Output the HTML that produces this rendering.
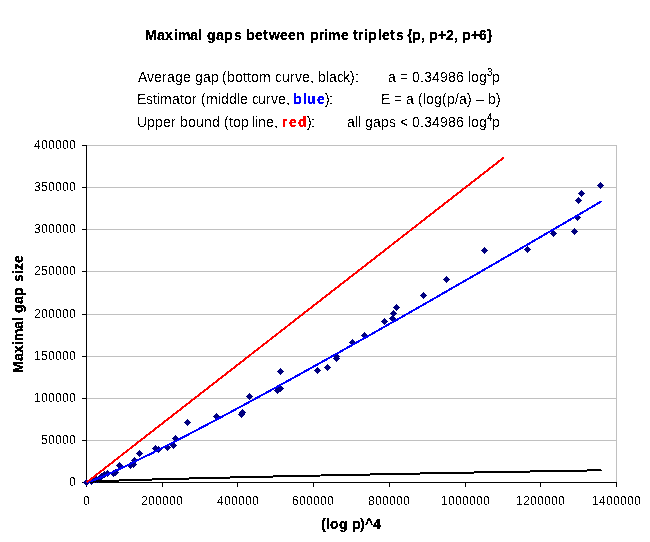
<!DOCTYPE html>
<html><head><meta charset="utf-8"><style>
html,body{margin:0;padding:0;background:#fff;width:650px;height:542px;overflow:hidden}
svg{display:block}
.t{font-family:"Liberation Sans",sans-serif;fill:#000;white-space:pre}
</style></head><body>
<svg width="650" height="542" viewBox="0 0 650 542">
<rect width="650" height="542" fill="#fff"/>
<defs><filter id="cr" x="0" y="0" width="650" height="542" filterUnits="userSpaceOnUse" color-interpolation-filters="sRGB"><feComponentTransfer><feFuncA type="discrete" tableValues="0 1"/></feComponentTransfer></filter><filter id="crb" x="0" y="0" width="650" height="542" filterUnits="userSpaceOnUse" color-interpolation-filters="sRGB"><feComponentTransfer><feFuncA type="discrete" tableValues="0 1 1"/></feComponentTransfer></filter></defs>
<g filter="url(#cr)" class="t">
<g filter="url(#crb)">
<text x="145 157 165 174 178 190 198 203 207 216 224 234 242 246 255 263 269 280 288 296 306 310 319 324 328 341" y="40" font-size="14" font-weight="bold">Maximal gaps between prime</text>
<text x="353 358 364 368 378 382 390 396" y="40" font-size="14" font-weight="bold">triplets</text>
<text x="407 412 421 425 429 438 446 454 458 462 471 479 487" y="40" font-size="14" font-weight="bold">{p, p+2, p+6}</text>
</g>
<text x="138 147 154 162 167 175 183 191 195 203 211 218 222 227 235 243 247 251 259 271 275 282 290 295 302 310 314 318 326 329 337 343 350 355" y="82" font-size="14">Average gap (bottom curve, black):</text>
<text x="137 146 153 157 160 172 180 184 192 197 201 206 218 221 229 237 240 248 252 258 266 271 278 286" y="104" font-size="14">Estimator (middle curve,</text>
<g filter="url(#crb)"><text x="293 303 307 317" y="104" font-size="14" font-weight="bold" fill="#0000ff">blue</text></g>
<text x="325 329" y="104" font-size="14">):</text>
<text x="137 147 155 163 171 176 180 188 196 204 212 220 224 229 233 241 249 252 255 258 266 274" y="127" font-size="14">Upper bound (top line,</text>
<g filter="url(#crb)"><text x="282 289 298" y="127" font-size="14" font-weight="bold" fill="#ff0000">red</text></g>
<text x="307 311" y="127" font-size="14">):</text>
<text x="388 396 400 408 412 420 424 432 440 448 456 464 468 471 479" y="82" font-size="14">a = 0.34986 log</text>
<g filter="url(#crb)"><text x="487" y="75.5" font-size="10">3</text></g>
<text x="492" y="82" font-size="14">p</text>
<text x="381 390 394 402 406 414 418 423 426 434 442 447 455 459 467 472 476 484 488 496" y="104" font-size="14">E = a (log(p/a) – b)</text>
<text x="347 355 358 361 365 373 381 389 396 400 408 412 420 424 432 440 448 456 464 468 471 479" y="127" font-size="14">all gaps &lt; 0.34986 log</text>
<g filter="url(#crb)"><text x="487" y="120.5" font-size="10">4</text></g>
<text x="492" y="127" font-size="14">p</text>
</g>
<g stroke="#c0c0c0" stroke-width="1" shape-rendering="crispEdges"><line x1="86" y1="145.5" x2="616" y2="145.5"/><line x1="86" y1="187.5" x2="616" y2="187.5"/><line x1="86" y1="229.5" x2="616" y2="229.5"/><line x1="86" y1="271.5" x2="616" y2="271.5"/><line x1="86" y1="314.5" x2="616" y2="314.5"/><line x1="86" y1="356.5" x2="616" y2="356.5"/><line x1="86" y1="398.5" x2="616" y2="398.5"/><line x1="86" y1="440.5" x2="616" y2="440.5"/><line x1="616.5" y1="145" x2="616.5" y2="482"/></g>
<g stroke="#000" stroke-width="1" shape-rendering="crispEdges"><line x1="86.5" y1="145" x2="86.5" y2="483"/><line x1="86" y1="482.5" x2="617" y2="482.5"/><line x1="82" y1="482.5" x2="86" y2="482.5"/><line x1="82" y1="440.5" x2="86" y2="440.5"/><line x1="82" y1="398.5" x2="86" y2="398.5"/><line x1="82" y1="356.5" x2="86" y2="356.5"/><line x1="82" y1="314.5" x2="86" y2="314.5"/><line x1="82" y1="271.5" x2="86" y2="271.5"/><line x1="82" y1="229.5" x2="86" y2="229.5"/><line x1="82" y1="187.5" x2="86" y2="187.5"/><line x1="82" y1="145.5" x2="86" y2="145.5"/><line x1="86.5" y1="482" x2="86.5" y2="487"/><line x1="162.5" y1="482" x2="162.5" y2="487"/><line x1="237.5" y1="482" x2="237.5" y2="487"/><line x1="313.5" y1="482" x2="313.5" y2="487"/><line x1="389.5" y1="482" x2="389.5" y2="487"/><line x1="465.5" y1="482" x2="465.5" y2="487"/><line x1="540.5" y1="482" x2="540.5" y2="487"/><line x1="616.5" y1="482" x2="616.5" y2="487"/></g>
<g filter="url(#cr)" class="t">
<text x="69" y="486" font-size="12">0</text>
<text x="41 48 55 62 69" y="444" font-size="12">50000</text>
<text x="34 41 48 55 62 69" y="402" font-size="12">100000</text>
<text x="34 41 48 55 62 69" y="360" font-size="12">150000</text>
<text x="34 41 48 55 62 69" y="318" font-size="12">200000</text>
<text x="34 41 48 55 62 69" y="275" font-size="12">250000</text>
<text x="34 41 48 55 62 69" y="233" font-size="12">300000</text>
<text x="34 41 48 55 62 69" y="191" font-size="12">350000</text>
<text x="34 41 48 55 62 69" y="149" font-size="12">400000</text>
<text x="83" y="505" font-size="12">0</text>
<text x="141 148 155 162 169 176" y="505" font-size="12">200000</text>
<text x="217 224 231 238 245 252" y="505" font-size="12">400000</text>
<text x="292 299 306 313 320 327" y="505" font-size="12">600000</text>
<text x="368 375 382 389 396 403" y="505" font-size="12">800000</text>
<text x="441 448 455 462 469 476 483" y="505" font-size="12">1000000</text>
<text x="516 523 530 537 544 551 558" y="505" font-size="12">1200000</text>
<text x="592 599 606 613 620 627 634" y="505" font-size="12">1400000</text>
<g filter="url(#crb)"><text x="321 326 330 339 348 352 360 365 373" y="529" font-size="14" font-weight="bold">(log p)^4</text></g>
<g filter="url(#crb)"><g transform="translate(23,372) rotate(-90)"><text x="-1 11 19 27 31 43 51 55 59 68 76 86 90 98 102 109" y="0" font-size="14" font-weight="bold">Maximal gap size</text></g></g>
</g>
<path fill="#000080" shape-rendering="crispEdges" d="M86,479h1v1h1v1h1v1h1v1h-1v1h-1v1h-1v1h-1v-1h-1v-1h-1v-1h-1v-1h1v-1h1v-1h1zM91,478h1v1h1v1h1v1h1v1h-1v1h-1v1h-1v1h-1v-1h-1v-1h-1v-1h-1v-1h1v-1h1v-1h1zM94,476h1v1h1v1h1v1h1v1h-1v1h-1v1h-1v1h-1v-1h-1v-1h-1v-1h-1v-1h1v-1h1v-1h1zM96,476h1v1h1v1h1v1h1v1h-1v1h-1v1h-1v1h-1v-1h-1v-1h-1v-1h-1v-1h1v-1h1v-1h1zM98,476h1v1h1v1h1v1h1v1h-1v1h-1v1h-1v1h-1v-1h-1v-1h-1v-1h-1v-1h1v-1h1v-1h1zM101,473h1v1h1v1h1v1h1v1h-1v1h-1v1h-1v1h-1v-1h-1v-1h-1v-1h-1v-1h1v-1h1v-1h1zM104,471h1v1h1v1h1v1h1v1h-1v1h-1v1h-1v1h-1v-1h-1v-1h-1v-1h-1v-1h1v-1h1v-1h1zM107,470h1v1h1v1h1v1h1v1h-1v1h-1v1h-1v1h-1v-1h-1v-1h-1v-1h-1v-1h1v-1h1v-1h1zM113,470h1v1h1v1h1v1h1v1h-1v1h-1v1h-1v1h-1v-1h-1v-1h-1v-1h-1v-1h1v-1h1v-1h1zM115,469h1v1h1v1h1v1h1v1h-1v1h-1v1h-1v1h-1v-1h-1v-1h-1v-1h-1v-1h1v-1h1v-1h1zM119,462h1v1h1v1h1v1h1v1h-1v1h-1v1h-1v1h-1v-1h-1v-1h-1v-1h-1v-1h1v-1h1v-1h1zM130,462h1v1h1v1h1v1h1v1h-1v1h-1v1h-1v1h-1v-1h-1v-1h-1v-1h-1v-1h1v-1h1v-1h1zM133,461h1v1h1v1h1v1h1v1h-1v1h-1v1h-1v1h-1v-1h-1v-1h-1v-1h-1v-1h1v-1h1v-1h1zM134,457h1v1h1v1h1v1h1v1h-1v1h-1v1h-1v1h-1v-1h-1v-1h-1v-1h-1v-1h1v-1h1v-1h1zM139,450h1v1h1v1h1v1h1v1h-1v1h-1v1h-1v1h-1v-1h-1v-1h-1v-1h-1v-1h1v-1h1v-1h1zM155,445h1v1h1v1h1v1h1v1h-1v1h-1v1h-1v1h-1v-1h-1v-1h-1v-1h-1v-1h1v-1h1v-1h1zM158,446h1v1h1v1h1v1h1v1h-1v1h-1v1h-1v1h-1v-1h-1v-1h-1v-1h-1v-1h1v-1h1v-1h1zM167,444h1v1h1v1h1v1h1v1h-1v1h-1v1h-1v1h-1v-1h-1v-1h-1v-1h-1v-1h1v-1h1v-1h1zM173,442h1v1h1v1h1v1h1v1h-1v1h-1v1h-1v1h-1v-1h-1v-1h-1v-1h-1v-1h1v-1h1v-1h1zM175,435h1v1h1v1h1v1h1v1h-1v1h-1v1h-1v1h-1v-1h-1v-1h-1v-1h-1v-1h1v-1h1v-1h1zM187,419h1v1h1v1h1v1h1v1h-1v1h-1v1h-1v1h-1v-1h-1v-1h-1v-1h-1v-1h1v-1h1v-1h1zM216,413h1v1h1v1h1v1h1v1h-1v1h-1v1h-1v1h-1v-1h-1v-1h-1v-1h-1v-1h1v-1h1v-1h1zM241,411h1v1h1v1h1v1h1v1h-1v1h-1v1h-1v1h-1v-1h-1v-1h-1v-1h-1v-1h1v-1h1v-1h1zM242,409h1v1h1v1h1v1h1v1h-1v1h-1v1h-1v1h-1v-1h-1v-1h-1v-1h-1v-1h1v-1h1v-1h1zM249,393h1v1h1v1h1v1h1v1h-1v1h-1v1h-1v1h-1v-1h-1v-1h-1v-1h-1v-1h1v-1h1v-1h1zM277,387h1v1h1v1h1v1h1v1h-1v1h-1v1h-1v1h-1v-1h-1v-1h-1v-1h-1v-1h1v-1h1v-1h1zM280,385h1v1h1v1h1v1h1v1h-1v1h-1v1h-1v1h-1v-1h-1v-1h-1v-1h-1v-1h1v-1h1v-1h1zM280,368h1v1h1v1h1v1h1v1h-1v1h-1v1h-1v1h-1v-1h-1v-1h-1v-1h-1v-1h1v-1h1v-1h1zM317,367h1v1h1v1h1v1h1v1h-1v1h-1v1h-1v1h-1v-1h-1v-1h-1v-1h-1v-1h1v-1h1v-1h1zM327,364h1v1h1v1h1v1h1v1h-1v1h-1v1h-1v1h-1v-1h-1v-1h-1v-1h-1v-1h1v-1h1v-1h1zM336,353h1v1h1v1h1v1h1v1h-1v1h-1v1h-1v1h-1v-1h-1v-1h-1v-1h-1v-1h1v-1h1v-1h1zM336,355h1v1h1v1h1v1h1v1h-1v1h-1v1h-1v1h-1v-1h-1v-1h-1v-1h-1v-1h1v-1h1v-1h1zM352,339h1v1h1v1h1v1h1v1h-1v1h-1v1h-1v1h-1v-1h-1v-1h-1v-1h-1v-1h1v-1h1v-1h1zM364,332h1v1h1v1h1v1h1v1h-1v1h-1v1h-1v1h-1v-1h-1v-1h-1v-1h-1v-1h1v-1h1v-1h1zM384,318h1v1h1v1h1v1h1v1h-1v1h-1v1h-1v1h-1v-1h-1v-1h-1v-1h-1v-1h1v-1h1v-1h1zM392,315h1v1h1v1h1v1h1v1h-1v1h-1v1h-1v1h-1v-1h-1v-1h-1v-1h-1v-1h1v-1h1v-1h1zM393,310h1v1h1v1h1v1h1v1h-1v1h-1v1h-1v1h-1v-1h-1v-1h-1v-1h-1v-1h1v-1h1v-1h1zM396,304h1v1h1v1h1v1h1v1h-1v1h-1v1h-1v1h-1v-1h-1v-1h-1v-1h-1v-1h1v-1h1v-1h1zM423,292h1v1h1v1h1v1h1v1h-1v1h-1v1h-1v1h-1v-1h-1v-1h-1v-1h-1v-1h1v-1h1v-1h1zM446,276h1v1h1v1h1v1h1v1h-1v1h-1v1h-1v1h-1v-1h-1v-1h-1v-1h-1v-1h1v-1h1v-1h1zM484,247h1v1h1v1h1v1h1v1h-1v1h-1v1h-1v1h-1v-1h-1v-1h-1v-1h-1v-1h1v-1h1v-1h1zM527,246h1v1h1v1h1v1h1v1h-1v1h-1v1h-1v1h-1v-1h-1v-1h-1v-1h-1v-1h1v-1h1v-1h1zM553,230h1v1h1v1h1v1h1v1h-1v1h-1v1h-1v1h-1v-1h-1v-1h-1v-1h-1v-1h1v-1h1v-1h1zM574,228h1v1h1v1h1v1h1v1h-1v1h-1v1h-1v1h-1v-1h-1v-1h-1v-1h-1v-1h1v-1h1v-1h1zM577,214h1v1h1v1h1v1h1v1h-1v1h-1v1h-1v1h-1v-1h-1v-1h-1v-1h-1v-1h1v-1h1v-1h1zM578,197h1v1h1v1h1v1h1v1h-1v1h-1v1h-1v1h-1v-1h-1v-1h-1v-1h-1v-1h1v-1h1v-1h1zM581,190h1v1h1v1h1v1h1v1h-1v1h-1v1h-1v1h-1v-1h-1v-1h-1v-1h-1v-1h1v-1h1v-1h1zM600,182h1v1h1v1h1v1h1v1h-1v1h-1v1h-1v1h-1v-1h-1v-1h-1v-1h-1v-1h1v-1h1v-1h1z"/>
<path d="M86.50,482.00 L86.51,482.00 L86.55,481.99 L86.62,481.98 L86.71,481.97 L86.82,481.95 L86.96,481.94 L87.13,481.92 L87.32,481.91 L87.54,481.89 L87.79,481.87 L88.06,481.85 L88.35,481.83 L88.67,481.81 L89.02,481.78 L89.39,481.76 L89.79,481.73 L90.21,481.71 L90.66,481.68 L91.14,481.66 L91.64,481.63 L92.17,481.60 L92.72,481.57 L93.30,481.54 L93.90,481.51 L94.53,481.48 L95.19,481.45 L95.87,481.42 L96.58,481.39 L97.31,481.35 L98.07,481.32 L98.85,481.28 L99.66,481.25 L100.50,481.21 L101.36,481.18 L102.24,481.14 L103.16,481.10 L104.10,481.07 L105.06,481.03 L106.05,480.99 L107.06,480.95 L108.11,480.91 L109.17,480.87 L110.26,480.83 L111.38,480.79 L112.53,480.75 L113.70,480.71 L114.89,480.66 L116.11,480.62 L117.36,480.58 L118.63,480.53 L119.93,480.49 L121.25,480.45 L122.60,480.40 L123.98,480.35 L125.38,480.31 L126.81,480.26 L128.26,480.22 L129.74,480.17 L131.24,480.12 L132.77,480.07 L134.32,480.02 L135.91,479.98 L137.51,479.93 L139.14,479.88 L140.80,479.83 L142.49,479.78 L144.19,479.73 L145.93,479.68 L147.69,479.62 L149.48,479.57 L151.29,479.52 L153.13,479.47 L154.99,479.41 L156.88,479.36 L158.80,479.31 L160.74,479.25 L162.70,479.20 L164.69,479.14 L166.71,479.09 L168.76,479.03 L170.83,478.98 L172.92,478.92 L175.04,478.87 L177.19,478.81 L179.36,478.75 L181.56,478.69 L183.78,478.64 L186.03,478.58 L188.30,478.52 L190.61,478.46 L192.93,478.40 L195.28,478.34 L197.66,478.28 L200.06,478.22 L202.49,478.16 L204.95,478.10 L207.43,478.04 L209.94,477.98 L212.47,477.92 L215.03,477.85 L217.61,477.79 L220.22,477.73 L222.85,477.67 L225.51,477.60 L228.20,477.54 L230.91,477.48 L233.65,477.41 L236.41,477.35 L239.20,477.28 L242.02,477.22 L244.86,477.15 L247.72,477.09 L250.61,477.02 L253.53,476.95 L256.47,476.89 L259.44,476.82 L262.44,476.75 L265.46,476.69 L268.50,476.62 L271.58,476.55 L274.67,476.48 L277.80,476.41 L280.95,476.34 L284.12,476.28 L287.32,476.21 L290.55,476.14 L293.80,476.07 L297.08,476.00 L300.38,475.93 L303.71,475.86 L307.06,475.78 L310.44,475.71 L313.85,475.64 L317.28,475.57 L320.74,475.50 L324.22,475.42 L327.73,475.35 L331.26,475.28 L334.82,475.21 L338.41,475.13 L342.02,475.06 L345.66,474.99 L349.32,474.91 L353.01,474.84 L356.72,474.76 L360.46,474.69 L364.23,474.61 L368.02,474.54 L371.84,474.46 L375.68,474.38 L379.55,474.31 L383.44,474.23 L387.36,474.15 L391.31,474.08 L395.28,474.00 L399.28,473.92 L403.30,473.84 L407.35,473.77 L411.42,473.69 L415.52,473.61 L419.65,473.53 L423.80,473.45 L427.98,473.37 L432.18,473.29 L436.41,473.21 L440.66,473.13 L444.94,473.05 L449.25,472.97 L453.58,472.89 L457.94,472.81 L462.32,472.73 L466.73,472.65 L471.16,472.57 L475.62,472.48 L480.11,472.40 L484.62,472.32 L489.16,472.24 L493.72,472.15 L498.31,472.07 L502.92,471.99 L507.56,471.90 L512.23,471.82 L516.92,471.74 L521.63,471.65 L526.38,471.57 L531.15,471.48 L535.94,471.40 L540.76,471.31 L545.60,471.23 L550.48,471.14 L555.37,471.06 L560.29,470.97 L565.24,470.88 L570.22,470.80 L575.22,470.71 L580.24,470.62 L585.29,470.54 L590.37,470.45 L595.47,470.36 L600.60,470.27" fill="none" stroke="#000" stroke-width="2" shape-rendering="crispEdges" stroke-linecap="round" stroke-linejoin="round"/>
<path d="M86.50,482.50 L86.51,482.50 L86.55,482.50 L86.62,482.49 L86.71,482.48 L86.82,482.47 L86.96,482.44 L87.13,482.41 L87.32,482.36 L87.54,482.31 L87.79,482.25 L88.06,482.17 L88.35,482.09 L88.67,481.99 L89.02,481.89 L89.39,481.77 L89.79,481.64 L90.21,481.50 L90.66,481.34 L91.14,481.18 L91.64,481.00 L92.17,480.81 L92.72,480.60 L93.30,480.39 L93.90,480.16 L94.53,479.92 L95.19,479.66 L95.87,479.39 L96.58,479.11 L97.31,478.81 L98.07,478.50 L98.85,478.18 L99.66,477.85 L100.50,477.50 L101.36,477.13 L102.24,476.75 L103.16,476.36 L104.10,475.96 L105.06,475.54 L106.05,475.10 L107.06,474.66 L108.11,474.19 L109.17,473.72 L110.26,473.23 L111.38,472.72 L112.53,472.20 L113.70,471.67 L114.89,471.12 L116.11,470.56 L117.36,469.98 L118.63,469.39 L119.93,468.78 L121.25,468.16 L122.60,467.52 L123.98,466.87 L125.38,466.20 L126.81,465.52 L128.26,464.83 L129.74,464.12 L131.24,463.39 L132.77,462.65 L134.32,461.89 L135.91,461.12 L137.51,460.34 L139.14,459.54 L140.80,458.72 L142.49,457.89 L144.19,457.04 L145.93,456.18 L147.69,455.30 L149.48,454.41 L151.29,453.50 L153.13,452.58 L154.99,451.64 L156.88,450.69 L158.80,449.72 L160.74,448.73 L162.70,447.73 L164.69,446.72 L166.71,445.68 L168.76,444.64 L170.83,443.58 L172.92,442.50 L175.04,441.40 L177.19,440.30 L179.36,439.17 L181.56,438.03 L183.78,436.87 L186.03,435.70 L188.30,434.51 L190.61,433.31 L192.93,432.09 L195.28,430.86 L197.66,429.61 L200.06,428.34 L202.49,427.06 L204.95,425.76 L207.43,424.45 L209.94,423.12 L212.47,421.77 L215.03,420.41 L217.61,419.03 L220.22,417.64 L222.85,416.23 L225.51,414.80 L228.20,413.36 L230.91,411.90 L233.65,410.43 L236.41,408.94 L239.20,407.44 L242.02,405.92 L244.86,404.38 L247.72,402.82 L250.61,401.25 L253.53,399.67 L256.47,398.07 L259.44,396.45 L262.44,394.81 L265.46,393.16 L268.50,391.50 L271.58,389.81 L274.67,388.12 L277.80,386.40 L280.95,384.67 L284.12,382.92 L287.32,381.16 L290.55,379.38 L293.80,377.58 L297.08,375.77 L300.38,373.94 L303.71,372.09 L307.06,370.23 L310.44,368.35 L313.85,366.46 L317.28,364.55 L320.74,362.62 L324.22,360.68 L327.73,358.72 L331.26,356.74 L334.82,354.75 L338.41,352.74 L342.02,350.72 L345.66,348.67 L349.32,346.62 L353.01,344.54 L356.72,342.45 L360.46,340.34 L364.23,338.22 L368.02,336.08 L371.84,333.92 L375.68,331.75 L379.55,329.56 L383.44,327.35 L387.36,325.13 L391.31,322.89 L395.28,320.63 L399.28,318.36 L403.30,316.07 L407.35,313.76 L411.42,311.44 L415.52,309.10 L419.65,306.74 L423.80,304.37 L427.98,301.98 L432.18,299.58 L436.41,297.16 L440.66,294.72 L444.94,292.26 L449.25,289.79 L453.58,287.30 L457.94,284.79 L462.32,282.27 L466.73,279.73 L471.16,277.18 L475.62,274.60 L480.11,272.02 L484.62,269.41 L489.16,266.79 L493.72,264.15 L498.31,261.49 L502.92,258.82 L507.56,256.13 L512.23,253.42 L516.92,250.70 L521.63,247.96 L526.38,245.20 L531.15,242.43 L535.94,239.64 L540.76,236.83 L545.60,234.01 L550.48,231.17 L555.37,228.31 L560.29,225.44 L565.24,222.54 L570.22,219.64 L575.22,216.71 L580.24,213.77 L585.29,210.81 L590.37,207.83 L595.47,204.84 L600.60,201.83" fill="none" stroke="#0000ff" stroke-width="2" shape-rendering="crispEdges" stroke-linecap="round" stroke-linejoin="round"/>
<path d="M87.50,481.72 L502.93,158.27" fill="none" stroke="#ff0000" stroke-width="2" shape-rendering="crispEdges" stroke-linecap="round" stroke-linejoin="round"/>
</svg>
</body></html>
